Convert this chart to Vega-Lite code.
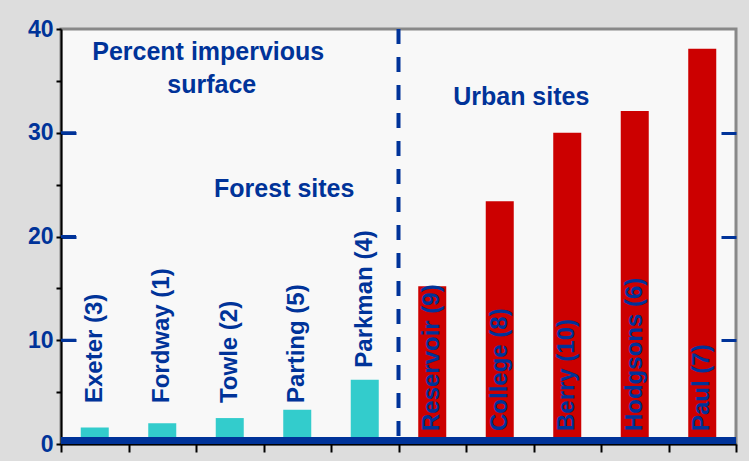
{
  "$schema": "https://vega.github.io/schema/vega-lite/v6.json",
  "width": 675,
  "height": 415,
  "autosize": "none",
  "padding": {"left": 61, "top": 29, "right": 13, "bottom": 17},
  "background": "#DDDDDD",
  "config": {
    "view": {"fill": "#F8F8F8", "stroke": "#888888", "strokeWidth": 3},
    "font": "Liberation Sans",
    "text": {"font": "Liberation Sans", "fontWeight": "bold", "color": "#003399"}
  },
  "data": {
    "values": [
      {"site": "Exeter (3)", "pct": 1.6, "group": "Forest"},
      {"site": "Fordway (1)", "pct": 2.0, "group": "Forest"},
      {"site": "Towle (2)", "pct": 2.5, "group": "Forest"},
      {"site": "Parting (5)", "pct": 3.3, "group": "Forest"},
      {"site": "Parkman (4)", "pct": 6.2, "group": "Forest"},
      {"site": "Reservoir (9)", "pct": 15.2, "group": "Urban"},
      {"site": "College (8)", "pct": 23.4, "group": "Urban"},
      {"site": "Berry (10)", "pct": 30.0, "group": "Urban"},
      {"site": "Hodgsons (6)", "pct": 32.1, "group": "Urban"},
      {"site": "Paul (7)", "pct": 38.1, "group": "Urban"}
    ]
  },
  "resolve": {"axis": {"y": "independent"}},
  "layer": [
    {
      "mark": {"type": "bar", "width": {"band": 0.415}},
      "encoding": {
        "x": {
          "field": "site", "type": "nominal", "sort": null,
          "scale": {"paddingInner": 0, "paddingOuter": 0},
          "axis": {"labels": false, "title": null, "tickBand": "extent", "tickSize": 8, "tickWidth": 2, "tickColor": "#000000", "domainColor": "#000000", "domainWidth": 2, "grid": false}
        },
        "y": {
          "field": "pct", "type": "quantitative",
          "scale": {"domain": [0, 40], "nice": false},
          "axis": {
            "orient": "left", "values": [0, 5, 10, 15, 20, 25, 30, 35, 40],
            "labelExpr": "datum.value % 10 == 0 ? datum.label : ''",
            "tickSize": 5, "tickWidth": 2, "tickColor": "#000000",
            "domainColor": "#000000", "domainWidth": 2,
            "labelFont": "Liberation Sans", "labelFontWeight": "bold", "labelFontSize": 23, "labelColor": "#003399", "labelPadding": 3,
            "grid": true, "gridColor": "#003399", "gridWidth": 3, "gridDash": [15, 645, 15],
            "gridOpacity": {"condition": {"test": "datum.value == 10 || datum.value == 20 || datum.value == 30", "value": 1}, "value": 0},
            "title": null
          }
        },
        "color": {"field": "group", "type": "nominal", "scale": {"domain": ["Forest", "Urban"], "range": ["#33CCCC", "#CC0000"]}, "legend": null}
      }
    },
    {
      "transform": [{"filter": "datum.site == 'Parkman (4)'"}],
      "mark": {"type": "rule", "color": "#003399", "strokeWidth": 4, "strokeDash": [15, 13], "xOffset": 33.75},
      "encoding": {"x": {"field": "site", "type": "nominal", "sort": null}}
    },
    {
      "transform": [{"filter": "datum.site == 'Exeter (3)'"}],
      "mark": {"type": "tick", "orient": "horizontal", "size": 15, "thickness": 3, "color": "#003399", "xOffset": -26.25, "opacity": 1},
      "encoding": {
        "x": {"field": "site", "type": "nominal", "sort": null},
        "y": {"datum": 10, "type": "quantitative", "axis": null}
      }
    },
    {
      "transform": [{"filter": "datum.site == 'Exeter (3)'"}],
      "mark": {"type": "tick", "orient": "horizontal", "size": 15, "thickness": 3, "color": "#003399", "xOffset": -26.25, "opacity": 1},
      "encoding": {
        "x": {"field": "site", "type": "nominal", "sort": null},
        "y": {"datum": 20, "type": "quantitative", "axis": null}
      }
    },
    {
      "transform": [{"filter": "datum.site == 'Exeter (3)'"}],
      "mark": {"type": "tick", "orient": "horizontal", "size": 15, "thickness": 3, "color": "#003399", "xOffset": -26.25, "opacity": 1},
      "encoding": {
        "x": {"field": "site", "type": "nominal", "sort": null},
        "y": {"datum": 30, "type": "quantitative", "axis": null}
      }
    },
    {
      "transform": [{"filter": "datum.group == 'Urban'"}],
      "mark": {"type": "text", "angle": 270, "align": "left", "baseline": "middle", "fontSize": 24},
      "encoding": {
        "x": {"field": "site", "type": "nominal", "sort": null},
        "y": {"datum": 1.25, "type": "quantitative", "axis": null},
        "text": {"field": "site"}
      }
    },
    {
      "transform": [{"filter": "datum.group == 'Forest' && datum.site != 'Parkman (4)'"}],
      "mark": {"type": "text", "angle": 270, "align": "left", "baseline": "middle", "fontSize": 24},
      "encoding": {
        "x": {"field": "site", "type": "nominal", "sort": null},
        "y": {"datum": 3.95, "type": "quantitative", "axis": null},
        "text": {"field": "site"}
      }
    },
    {
      "transform": [{"filter": "datum.site == 'Parkman (4)'"}],
      "mark": {"type": "text", "angle": 270, "align": "left", "baseline": "middle", "fontSize": 24, "dx": 12},
      "encoding": {
        "x": {"field": "site", "type": "nominal", "sort": null},
        "y": {"field": "pct", "type": "quantitative", "axis": null},
        "text": {"field": "site"}
      }
    },
    {
      "transform": [{"filter": "datum.site == 'Towle (2)'"}],
      "mark": {"type": "text", "align": "center", "baseline": "middle", "fontSize": 25, "dx": -21.5, "text": "Percent impervious"},
      "encoding": {
        "x": {"field": "site", "type": "nominal", "sort": null},
        "y": {"datum": 37.78, "type": "quantitative", "axis": null}
      }
    },
    {
      "transform": [{"filter": "datum.site == 'Towle (2)'"}],
      "mark": {"type": "text", "align": "center", "baseline": "middle", "fontSize": 25, "dx": -18, "text": "surface"},
      "encoding": {
        "x": {"field": "site", "type": "nominal", "sort": null},
        "y": {"datum": 34.6, "type": "quantitative", "axis": null}
      }
    },
    {
      "transform": [{"filter": "datum.site == 'Parting (5)'"}],
      "mark": {"type": "text", "align": "center", "baseline": "middle", "fontSize": 25, "dx": -13, "text": "Forest sites"},
      "encoding": {
        "x": {"field": "site", "type": "nominal", "sort": null},
        "y": {"datum": 24.58, "type": "quantitative", "axis": null}
      }
    },
    {
      "transform": [{"filter": "datum.site == 'College (8)'"}],
      "mark": {"type": "text", "align": "center", "baseline": "middle", "fontSize": 25, "dx": 21.5, "text": "Urban sites"},
      "encoding": {
        "x": {"field": "site", "type": "nominal", "sort": null},
        "y": {"datum": 33.49, "type": "quantitative", "axis": null}
      }
    },
    {
      "transform": [{"filter": "datum.site == 'Exeter (3)'"}],
      "mark": {"type": "rule", "color": "#003399", "strokeWidth": 7, "yOffset": -3.5},
      "encoding": {
        "y": {"datum": 0, "type": "quantitative", "axis": null}
      }
    }
  ]
}
